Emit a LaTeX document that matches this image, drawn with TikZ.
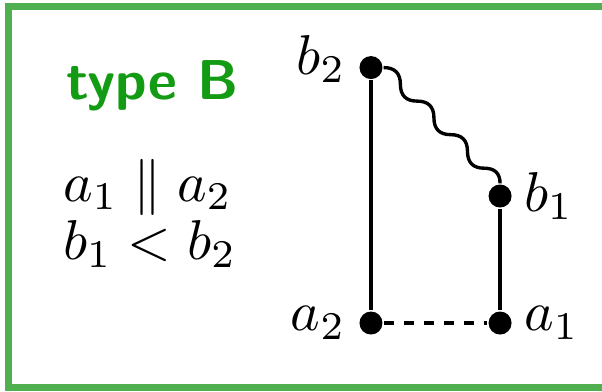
\documentclass[tikz,border=0pt]{standalone}
\usetikzlibrary{positioning}
\definecolor{boxgreen}{RGB}{80,176,80}
\definecolor{typegreen}{RGB}{20,155,20}
\begin{document}
\begin{tikzpicture}[x=1cm,y=1cm,
  dot/.style={circle,fill=black,inner sep=0pt,minimum size=4.1pt},
  conn/.style={line width=0.6pt},
  wave/.style={conn,looseness=1.2},
  dashconn/.style={conn,dash pattern=on 1.9pt off 1.66pt}]
\useasboundingbox (0,0) rectangle (3.768,2.448);
\draw[boxgreen,line width=1.25pt] (0.053,0.022) rectangle (3.794,2.410);

\node[anchor=base west,inner sep=0pt,text=typegreen,font=\sffamily\bfseries] (typeb) at (0.407,1.822) {type B};
\node[anchor=base west,inner sep=0pt] (rela) at (0.388,1.189) {$a_1 \parallel a_2$};
\node[anchor=base west,inner sep=0pt] (relb) at (0.388,0.826) {$b_1 < b_2$};

\node[dot] (b2) at (2.322,2.025) {};
\node[dot] (b1) at (3.130,1.221) {};
\node[dot] (a2) at (2.322,0.426) {};
\node[dot] (a1) at (3.130,0.426) {};

\node[left=-1.3pt of b2,yshift=1.5pt] (b2lbl) {$b_2$};
\node[right=-1.5pt of b1] (b1lbl) {$b_1$};
\node[left=-1.3pt of a2] (a2lbl) {$a_2$};
\node[right=-1.5pt of a1] (a1lbl) {$a_1$};

\draw[conn] (b2) -- (a2);
\draw[conn] (b1) -- (a1);
\draw[dashconn] (a2) -- (a1);
% wavy link b2 -> b1
\draw[wave] (b2.east) to[out=0,in=90] ++(0.105,-0.105)
  to[out=-90,in=180] ++(0.105,-0.105) to[out=0,in=90] ++(0.105,-0.105)
  to[out=-90,in=180] ++(0.105,-0.105) to[out=0,in=90] ++(0.105,-0.105)
  to[out=-90,in=180] ++(0.105,-0.105) to[out=0,in=90] (b1.north);
\end{tikzpicture}
\end{document}
